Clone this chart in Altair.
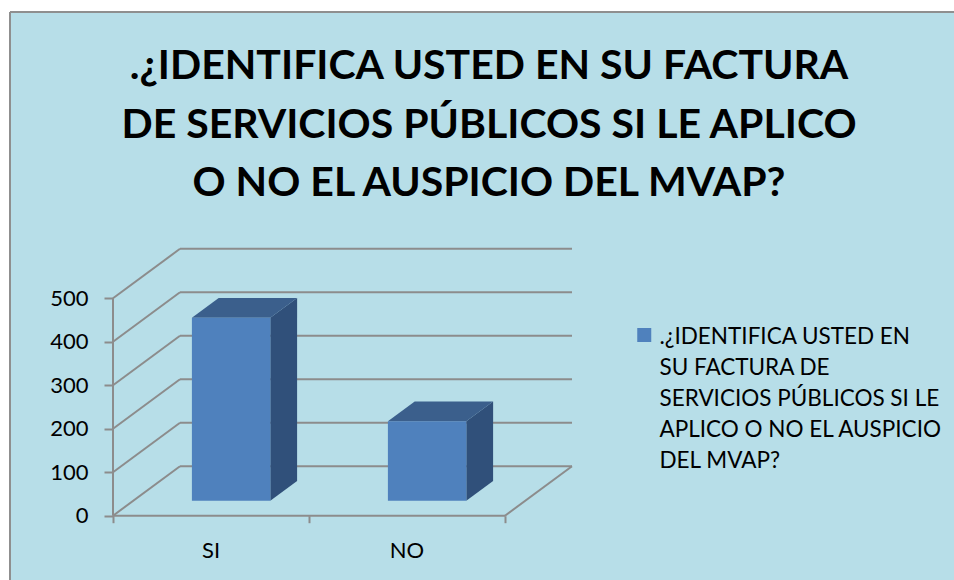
import json
import altair as alt
import pandas as pd

# ---------------- data ----------------
CATEGORIES = ["SI", "NO"]
VALUES = [421, 183]
Y_TICKS = [0, 100, 200, 300, 400, 500]
TITLE_LINES = [
    ".¿IDENTIFICA USTED EN SU FACTURA",
    "DE SERVICIOS PÚBLICOS SI LE APLICO",
    "O NO EL AUSPICIO DEL MVAP?",
]
LEGEND_LINES = [
    ".¿IDENTIFICA USTED EN",
    "SU FACTURA DE",
    "SERVICIOS PÚBLICOS SI LE",
    "APLICO O NO EL AUSPICIO",
    "DEL MVAP?",
]
SERIES = " ".join(LEGEND_LINES)

# ---------------- layout / style ----------------
FONT = "Lato"
BG = "#B7DEE8"
GRID = "#8C8C8C"
FRONT = "#4F81BD"
TOP = "#3B5F8C"
SIDE = "#30507A"

PAD_L, PAD_T = 10, 12
W, H = 944, 568
X0_PX, CAT_PX = 103, 196          # pixel of category origin, pixels per category
Y0_PX, Y_PX = 503.7, 217.4 / 500  # pixel of value 0, pixels per value unit
DX = 67 / CAT_PX                  # depth offset (in category units)
DY = 49.5 / Y_PX                  # depth offset (in value units)
LO, HI = 0.3, 0.7                 # bar extent inside a category / depth slot
N = len(CATEGORIES)

xs = alt.Scale(domain=[-X0_PX / CAT_PX, (W - X0_PX) / CAT_PX], nice=False, zero=False)
ys = alt.Scale(domain=[(Y0_PX - H) / Y_PX, Y0_PX / Y_PX], nice=False, zero=False)

X_AXIS = alt.Axis(
    orient="bottom", offset=-(H - Y0_PX), values=list(range(N + 1)),
    labels=False, domain=False, grid=False, tickSize=7, tickWidth=2,
    tickColor=GRID, title=None)
Y_AXIS = alt.Axis(
    orient="left", offset=-X0_PX, values=Y_TICKS, domain=False, grid=False,
    tickSize=9, tickWidth=2, tickColor=GRID, labelFont=FONT,
    labelFontSize=22, labelColor="black", labelPadding=16, title=None)


def X(f):
    return alt.X(f, type="quantitative", scale=xs, axis=X_AXIS)


def Y(f):
    return alt.Y(f, type="quantitative", scale=ys, axis=Y_AXIS)


# ---------------- derived tables ----------------
grid_rows = []
for v in Y_TICKS:
    grid_rows.append(dict(x0=0, y0=v, x1=DX, y1=v + DY))
    grid_rows.append(dict(x0=DX, y0=v + DY, x1=N + DX, y1=v + DY))
grid_rows.append(dict(x0=N, y0=0, x1=N + DX, y1=DY))
grid_rows.append(dict(x0=0, y0=0, x1=N, y1=0))
grid_rows.append(dict(x0=0, y0=0, x1=0, y1=max(Y_TICKS)))
grid_df = pd.DataFrame(grid_rows)

front_rows, top_rows, side_rows, lab_rows = [], [], [], []
for i, (c, v) in enumerate(zip(CATEGORIES, VALUES)):
    front_rows.append(dict(cat=c, serie=SERIES,
                           xa=i + LO + LO * DX, xb=i + HI + LO * DX,
                           ya=LO * DY, yb=v + LO * DY))
    for d in (LO, HI):
        top_rows.append(dict(cat=c, y=v + d * DY,
                             xa=i + LO + d * DX, xb=i + HI + d * DX))
        side_rows.append(dict(cat=c, x=i + HI + d * DX,
                              ya=d * DY, yb=v + d * DY))
    lab_rows.append(dict(cat=c, x=i + 0.5, y=0))
front_df = pd.DataFrame(front_rows)
top_df = pd.DataFrame(top_rows)
side_df = pd.DataFrame(side_rows)
lab_df = pd.DataFrame(lab_rows)

# ---------------- layers ----------------
grid = alt.Chart(grid_df).mark_rule(color=GRID, strokeWidth=2).encode(
    x=X("x0"), x2="x1:Q", y=Y("y0"), y2="y1:Q",
)

side = alt.Chart(side_df).mark_area(orient="vertical", color=SIDE).encode(
    x=X("x"), y=Y("ya"), y2="yb:Q", detail="cat:N",
)

top = alt.Chart(top_df).mark_area(orient="horizontal", color=TOP).encode(
    y=Y("y"), x=X("xa"), x2="xb:Q", detail="cat:N",
)

label_expr = "[" + ",".join(json.dumps(s, ensure_ascii=False) for s in LEGEND_LINES) + "]"
# square symbol drawn slightly below its anchor so it lines up with the first text line
LEGEND_SYMBOL = "M-1,0.25H1V2.25H-1Z"

front = alt.Chart(front_df).mark_rect().encode(
    x=X("xa"), x2="xb:Q", y=Y("ya"), y2="yb:Q",
    color=alt.Color("serie:N", scale=alt.Scale(domain=[SERIES], range=[FRONT]),
                    legend=alt.Legend(
                        orient="none", legendX=623, legendY=303, title=None,
                        padding=0, symbolType=LEGEND_SYMBOL, symbolSize=196,
                        symbolStrokeWidth=0, labelFont=FONT, labelFontSize=22.5,
                        labelColor="black", labelLimit=600, labelOffset=4,
                        labelBaseline="top", labelExpr=label_expr)),
)

labels = alt.Chart(lab_df).mark_text(
    font=FONT, fontSize=22, color="black", baseline="middle", dy=35
).encode(
    x=X("x"), y=Y("y"), text="cat:N",
)

chart = alt.layer(grid, side, top, front, labels).properties(
    width=W, height=H,
    autosize="none",
    padding={"left": PAD_L, "top": PAD_T, "right": 0, "bottom": 0},
    background="white",
    title=alt.TitleParams(
        text=TITLE_LINES, font=FONT, fontSize=41, fontWeight="bold",
        color="black", lineHeight=58.5, anchor="middle", frame="group",
        offset=0, dx=7, dy=193),
).configure(
    style={"guide-label": {"lineHeight": 31}}
).configure_view(
    fill=BG, stroke="#8F8F8F", strokeWidth=2,
    # frame only on the top and left edges (the chart area continues past the window)
    strokeDash=[W, W + H, H, 0],
)

chart.save("out.html", embed_options={"renderer": "svg", "actions": False})
